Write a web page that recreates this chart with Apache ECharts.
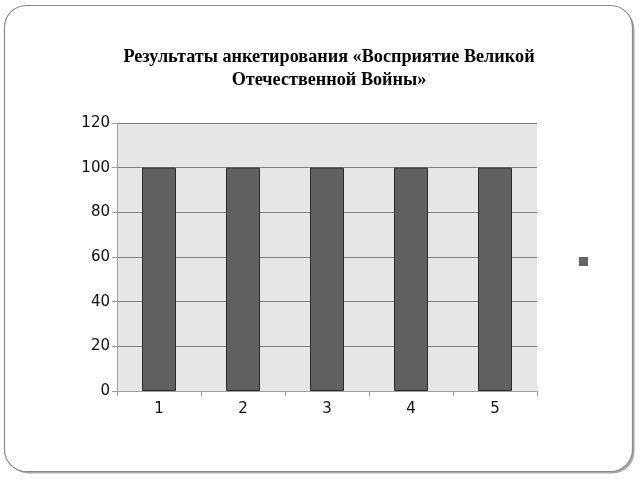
<!DOCTYPE html>
<html>
<head>
<meta charset="utf-8">
<script src="https://cdn.jsdelivr.net/npm/echarts@6/dist/echarts.min.js"></script>
<style>html,body{margin:0;padding:0;background:#fff}#c{width:640px;height:480px}</style>
</head>
<body>
<div id="c"></div>
<script>
const titleText = 'Результаты анкетирования «Восприятие Великой\nОтечественной Войны»';
const categories = ['1', '2', '3', '4', '5'];
const values = [100, 100, 100, 100, 100];
const yTicks = [0, 20, 40, 60, 80, 100, 120];

const chart = echarts.init(document.getElementById('c'));
chart.setOption({
  animation: false,
  backgroundColor: '#ffffff',
  graphic: [
    { type: 'rect', z: -10, shape: { x: 6.5, y: 7.5, width: 628, height: 466, r: 22 },
      style: { fill: '#a8a8a8' } },
    { type: 'rect', z: -9, shape: { x: 4.5, y: 5.5, width: 628, height: 466, r: 22 },
      style: { fill: '#ffffff', stroke: '#8a8a8a', lineWidth: 1.2 } }
  ],
  title: {
    text: titleText,
    left: 324, top: 41, textAlign: 'center',
    textStyle: { fontFamily: 'Liberation Serif', fontWeight: 'bold', fontSize: 18.2, color: '#000', lineHeight: 23 }
  },
  legend: {
    data: [' '], left: 579, top: 257, icon: 'rect', itemWidth: 9, itemHeight: 9,
    itemStyle: { borderWidth: 0, color: '#656565' },
    textStyle: { fontSize: 1, color: '#fff' }, itemGap: 0, padding: 0
  },
  grid: { left: 117, right: 103, top: 123, bottom: 89, show: true, backgroundColor: '#e6e6e6', borderWidth: 0 },
  xAxis: {
    type: 'category', data: categories,
    axisLine: { lineStyle: { color: '#a0a0a0', width: 1 } },
    axisTick: { show: true, alignWithLabel: false, length: 5, lineStyle: { color: '#a0a0a0' } },
    axisLabel: { fontFamily: 'DejaVu Sans', fontSize: 15, color: '#111', margin: 11 }
  },
  yAxis: {
    type: 'value', min: yTicks[0], max: yTicks[yTicks.length - 1], interval: 20,
    axisLine: { show: true, lineStyle: { color: '#a0a0a0' } },
    axisTick: { show: true, length: 5, lineStyle: { color: '#a0a0a0' } },
    axisLabel: { fontFamily: 'DejaVu Sans', fontSize: 15, color: '#111', margin: 7 },
    splitLine: { lineStyle: { color: '#808080', width: 1 } }
  },
  series: [{
    name: ' ', type: 'bar', data: values, barWidth: 34,
    itemStyle: { color: '#606060', borderColor: '#2a2a2a', borderWidth: 1 }
  }]
});
</script>
</body>
</html>
